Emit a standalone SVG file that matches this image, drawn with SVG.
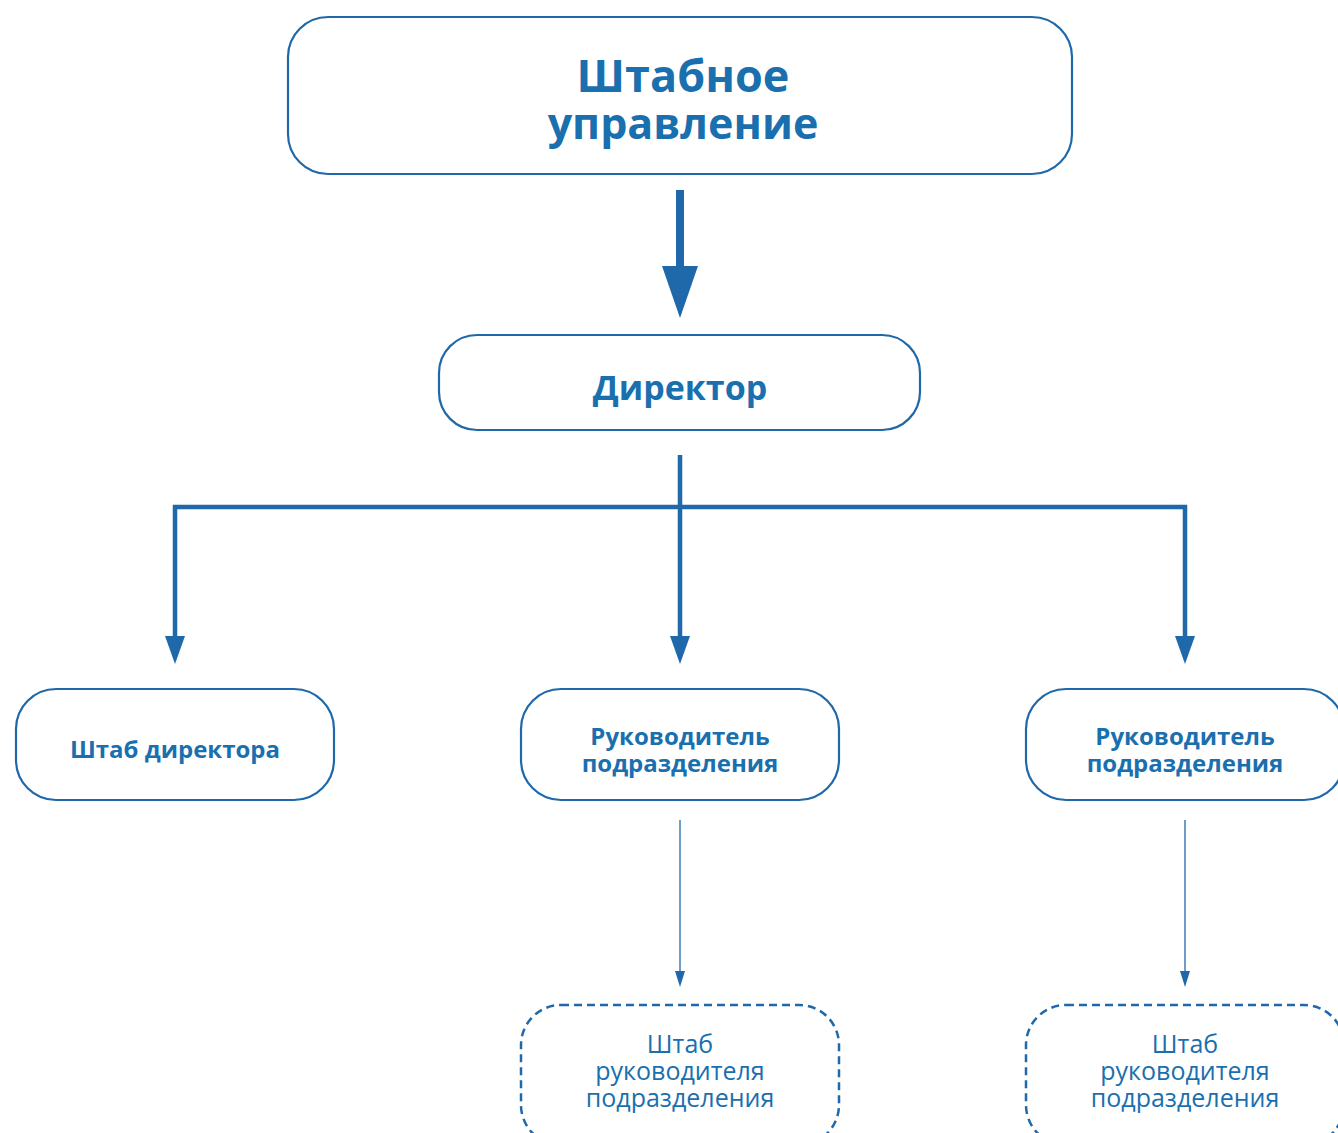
<svg xmlns="http://www.w3.org/2000/svg" width="1338" height="1133" viewBox="0 0 1338 1133">
<defs>
<style>
.box{fill:#fff;stroke:#1f69aa;stroke-width:2.2}
.dbox{fill:#fff;stroke:#1f69aa;stroke-width:2.5;stroke-dasharray:8 5}
.t{font-family:"Open Sans","Noto Sans","DejaVu Sans",sans-serif;fill:#1a6faf;text-anchor:middle}
.b{font-weight:bold}
.con{stroke:#1f69aa;fill:none}
.head{fill:#1f69aa;stroke:none}
</style>
</defs>
<rect width="1338" height="1133" fill="#fff"/>
<g id="connectors">
<rect class="head" x="676" y="190" width="8" height="80"/>
<polygon class="head" points="662,266 698,266 680,318"/>
<path class="con" d="M680 455 V640 M175 640 V507 H1185 V640" stroke-width="4.5"/>
<polygon class="head" points="165,636 185,636 175,664"/>
<polygon class="head" points="670,636 690,636 680,664"/>
<polygon class="head" points="1175,636 1195,636 1185,664"/>
<path class="con" d="M680 820 V975 M1185 820 V975" stroke-width="1.3"/>
<polygon class="head" points="675,971 685,971 680,987"/>
<polygon class="head" points="1180,971 1190,971 1185,987"/>
</g>
<g id="node-shtabnoe">
<rect class="box" x="288" y="17" width="784" height="157" rx="40"/>
<text class="t b" x="683" y="92" font-size="45">Штабное</text>
<text class="t b" x="683" y="139" font-size="43">управление</text>
</g>
<g id="node-director">
<rect class="box" x="439" y="335" width="481" height="95" rx="38"/>
<text class="t b" x="680" y="400" font-size="34">Директор</text>
</g>
<g id="node-shtab-director">
<rect class="box" x="16" y="689" width="318" height="111" rx="40"/>
<text class="t b" x="175" y="758" font-size="24">Штаб директора</text>
</g>
<g id="node-ruk1">
<rect class="box" x="521" y="689" width="318" height="111" rx="40"/>
<text class="t b" x="680" y="745" font-size="24">Руководитель</text>
<text class="t b" x="680" y="772" font-size="24">подразделения</text>
</g>
<g id="node-ruk2">
<rect class="box" x="1026" y="689" width="318" height="111" rx="40"/>
<text class="t b" x="1185" y="745" font-size="24">Руководитель</text>
<text class="t b" x="1185" y="772" font-size="24">подразделения</text>
</g>
<g id="node-shtab-ruk1">
<rect class="dbox" x="521" y="1005" width="318" height="140" rx="40"/>
<text class="t" x="680" y="1053" font-size="25">Штаб</text>
<text class="t" x="680" y="1080" font-size="25">руководителя</text>
<text class="t" x="680" y="1107" font-size="25">подразделения</text>
</g>
<g id="node-shtab-ruk2">
<rect class="dbox" x="1026" y="1005" width="318" height="140" rx="40"/>
<text class="t" x="1185" y="1053" font-size="25">Штаб</text>
<text class="t" x="1185" y="1080" font-size="25">руководителя</text>
<text class="t" x="1185" y="1107" font-size="25">подразделения</text>
</g>
</svg>
